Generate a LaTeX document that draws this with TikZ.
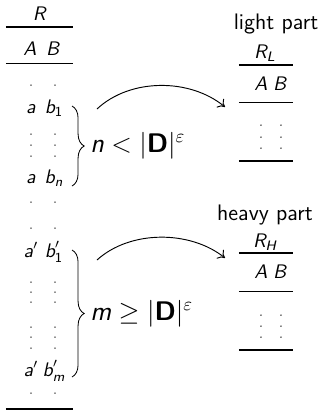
\documentclass[tikz,border=0pt]{standalone}
\usepackage{amsmath}
\usepackage{fontspec}
\usetikzlibrary{decorations.pathreplacing,arrows.meta}
\newcommand\sv[1]{\textsf{\itshape #1}}
\newcommand\dotpair[3]{\fill (#1,#3) circle[radius=0.4pt] (#2,#3) circle[radius=0.4pt];}
\begin{document}
\begin{tikzpicture}[x=0.535pt,y=-0.535pt,font=\sffamily,
  txt/.style={inner sep=0pt,anchor=base,font=\fontsize{10.5pt}{12pt}\sffamily},
  part/.style={inner sep=0pt,anchor=base,font=\large\sffamily},
  thickrule/.style={line width=0.75pt},
  thinrule/.style={line width=0.45pt},
  bracestyle/.style={decorate,decoration={brace,amplitude=6.5pt},line width=0.45pt},
  arr/.style={-{To[length=3.5pt,width=6pt]},line width=0.5pt},
  lbl/.style={inner sep=0pt,anchor=base west,font=\Large}]
\useasboundingbox (0,0) rectangle (320,411);
% left table
\node[txt] (R) at (40,20) {\sv{R}};
\draw[thickrule] (6,27) -- (73,27);
\node[txt] (hA) at (30,55) {\sv{A}};
\node[txt] (hB) at (53,55) {\sv{B}};
\draw[thinrule] (6,63) -- (73,63);
\dotpair{31}{55}{85}
\node[txt] (a1) at (31,113) {\sv{a}};
\node[txt] (b1) at (54,113) {$\sv{b}_{\textsf{1}}$};
\dotpair{31}{55}{134}
\dotpair{31}{55}{145}
\dotpair{31}{55}{156}
\node[txt] (an) at (31,183) {\sv{a}};
\node[txt] (bn) at (54,183) {$\sv{b}_{\sv{n}}$};
\dotpair{31}{55}{202}
\dotpair{31}{55}{228}
\node[txt] (ap1) at (31,257) {$\sv{a}'$};
\node[txt] (bp1) at (54,257) {$\sv{b}'_{\textsf{1}}$};
\dotpair{31}{55}{282}
\dotpair{31}{55}{292}
\dotpair{31}{55}{302}
\dotpair{31}{55}{327}
\dotpair{31}{55}{337}
\dotpair{31}{55}{348}
\node[txt] (apm) at (31,376) {$\sv{a}'$};
\node[txt] (bpm) at (54,376) {$\sv{b}'_{\sv{m}}$};
\dotpair{31}{55}{393}
\draw[thickrule] (6,409) -- (73,409);
% braces
\coordinate (br1t) at (72,106);
\coordinate (br1b) at (72,186);
\draw[bracestyle] (br1t) -- (br1b);
\node[lbl] (lab1) at (90,152) {$\sv{n} < |\textsf{\bfseries D}|^{\varepsilon}$};
\coordinate (br2t) at (72,250);
\coordinate (br2b) at (72,377);
\draw[bracestyle] (br2t) -- (br2b);
\node[lbl] (lab2) at (90,320) {$\sv{m} \geq |\textsf{\bfseries D}|^{\varepsilon}$};
% right light
\node[part] (light) at (276,29) {light part};
\node[txt] (RL) at (265,58) {$\sv{R}_{\sv{L}}$};
\draw[thickrule] (239,65) -- (293,65);
\node[txt] (lA) at (261,90) {\sv{A}};
\node[txt] (lB) at (280,90) {\sv{B}};
\draw[thinrule] (239,102) -- (293,102);
\dotpair{261}{281}{125}
\dotpair{261}{281}{137}
\dotpair{261}{281}{148}
\draw[thickrule] (239,161) -- (293,161);
% right heavy
\node[part] (heavy) at (265,220) {heavy part};
\node[txt] (RH) at (265,247) {$\sv{R}_{\sv{H}}$};
\draw[thickrule] (239,253) -- (293,253);
\node[txt] (hhA) at (261,278) {\sv{A}};
\node[txt] (hhB) at (280,278) {\sv{B}};
\draw[thinrule] (239,291) -- (293,291);
\dotpair{261}{281}{315}
\dotpair{261}{281}{326}
\dotpair{261}{281}{337}
\draw[thickrule] (239,350) -- (293,350);
% arrows
\coordinate (s1) at (97,109);
\coordinate (e1) at (225,107);
\draw[arr] (s1) .. controls (130,78) and (190,78) .. (e1);
\coordinate (s2) at (97,260);
\coordinate (e2) at (225,258);
\draw[arr] (s2) .. controls (130,230) and (190,230) .. (e2);
\end{tikzpicture}
\end{document}
